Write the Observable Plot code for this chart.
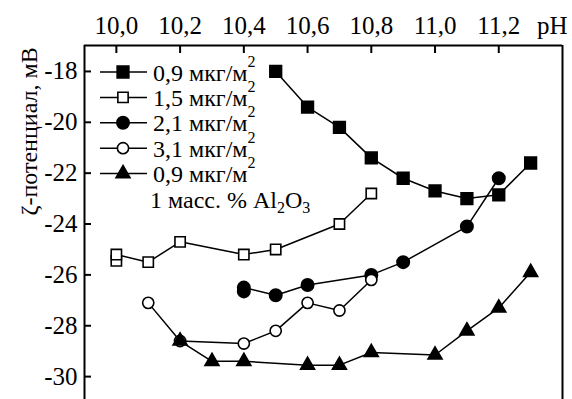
<!DOCTYPE html>
<html><head><meta charset="utf-8">
<script src="https://cdn.jsdelivr.net/npm/d3@7"></script>
<script src="https://cdn.jsdelivr.net/npm/@observablehq/plot@0.6"></script>
<style>
html,body{margin:0;padding:0;background:#fff;overflow:hidden}
#chart svg{display:block}
</style></head><body><div id="chart"></div>
<script>
// ---- data ----
const legendLabels = ["0,9 мкг/м", "1,5 мкг/м", "2,1 мкг/м", "3,1 мкг/м", "0,9 мкг/м"];
const legendNote = "1 масс. % Al";
const pH1 = [10.5, 10.6, 10.7, 10.8, 10.9, 11.0, 11.1, 11.2, 11.3];
const zeta1 = [-18.0, -19.4, -20.2, -21.4, -22.2, -22.7, -23.0, -22.85, -21.6];
const pH2 = [10.0, 10.0, 10.1, 10.2, 10.4, 10.5, 10.7, 10.8];
const zeta2 = [-25.45, -25.2, -25.5, -24.7, -25.2, -25.0, -24.0, -22.8];
const pH3 = [10.4, 10.4, 10.5, 10.6, 10.8, 10.9, 11.1, 11.2];
const zeta3 = [-26.65, -26.5, -26.8, -26.4, -26.0, -25.5, -24.1, -22.2];
const pH4 = [10.1, 10.2, 10.4, 10.5, 10.6, 10.7, 10.8];
const zeta4 = [-27.1, -28.6, -28.7, -28.2, -27.1, -27.4, -26.2];
const pH5 = [10.2, 10.3, 10.4, 10.6, 10.7, 10.8, 11.0, 11.1, 11.2, 11.3];
const zeta5 = [-28.6, -29.4, -29.4, -29.55, -29.55, -29.05, -29.15, -28.2, -27.3, -25.9];
const xTicks = [10.0, 10.2, 10.4, 10.6, 10.8, 11.0, 11.2];
const yTicks = [-18, -20, -22, -24, -26, -28, -30];
const xDomain = [9.9, 11.4];
const yDomain = [-30.9, -16.98];

// ---- build ----
const FONT = "Liberation Serif";
const rows = (xs, ys) => xs.map((x, i) => ({pH: x, zeta: ys[i]}));
const S = [rows(pH1, zeta1), rows(pH2, zeta2), rows(pH3, zeta3), rows(pH4, zeta4), rows(pH5, zeta5)];
const styles = [
  {symbol: "square", r: 6.6, fill: "black"},
  {symbol: "square", r: 5.8, fill: "white"},
  {symbol: "circle", r: 6.2, fill: "black"},
  {symbol: "circle", r: 5.6, fill: "white"},
  {symbol: "triangle", r: 5.2, fill: "black"}
];
const marks = [];
for (let i = 0; i < S.length; i++) {
  marks.push(Plot.line(S[i], {x: "pH", y: "zeta", stroke: "black", strokeWidth: 1.5}));
}
for (let i = 0; i < S.length; i++) {
  const st = styles[i];
  marks.push(Plot.dot(S[i], {x: "pH", y: "zeta", symbol: st.symbol, r: st.r, fill: st.fill, stroke: "black", strokeWidth: 1.6}));
}
const fmtX = d => d.toFixed(1).replace(".", ",");
const fmtY = d => (d < 0 ? "-" : "") + Math.abs(d);

const chart = Plot.plot({
  width: 572,
  height: 399,
  marginTop: 45,
  marginLeft: 84,
  marginRight: 10,
  marginBottom: 0,
  style: {background: "white", color: "black"},
  x: {domain: xDomain},
  y: {domain: yDomain},
  marks: [
    Plot.ruleX(xDomain, {stroke: "black", strokeWidth: 2}),
    Plot.ruleY([yDomain[1]], {stroke: "black", strokeWidth: 2}),
    Plot.axisX(xTicks, {anchor: "top", tickSize: 0, tickPadding: 12, tickFormat: fmtX, fontSize: 25, fontFamily: FONT, label: null}),
    Plot.axisX(xTicks, {anchor: "top", tickSize: -7, strokeWidth: 2, tickFormat: () => "", label: null}),
    Plot.axisY(yTicks, {anchor: "left", tickSize: 0, tickPadding: 7, tickFormat: fmtY, fontSize: 25, fontFamily: FONT, label: null}),
    Plot.axisY(yTicks, {anchor: "left", tickSize: -7, strokeWidth: 2, tickFormat: () => "", label: null}),
    Plot.text(["pH"], {frameAnchor: "top-right", dx: 5, dy: -12, textAnchor: "end", lineAnchor: "bottom", fontSize: 25, fontFamily: FONT}),
    Plot.text(["ζ-потенциал, мВ"], {frameAnchor: "left", rotate: -90, dx: -55, dy: -7, fontSize: 24, fontFamily: FONT}),
    ...marks
  ]
});
document.getElementById("chart").appendChild(chart);

// ---- legend (layout in pixels) ----
const svg = d3.select(chart);
const lg = svg.append("g").attr("font-family", FONT).attr("fill", "black").attr("text-anchor", "start");
const symMap = {square: d3.symbolSquare, circle: d3.symbolCircle, triangle: d3.symbolTriangle};
legendLabels.forEach((lab, i) => {
  const y = 72 + i * 25.4;
  lg.append("line").attr("x1", 100).attr("x2", 147).attr("y1", y).attr("y2", y).attr("stroke", "black").attr("stroke-width", 1.5);
  const st = styles[i];
  lg.append("path")
    .attr("d", d3.symbol(symMap[st.symbol], Math.PI * st.r * st.r)())
    .attr("transform", `translate(123,${y})`)
    .attr("fill", st.fill).attr("stroke", "black").attr("stroke-width", 1.6);
  const t = lg.append("text").attr("x", 153).attr("y", y + 8.5).attr("font-size", 24);
  t.append("tspan").text(lab);
  t.append("tspan").attr("font-size", 16).attr("dy", -14).text("2");
});
{
  const y = 72 + 5 * 25.4 + 9;
  const t = lg.append("text").attr("x", 150).attr("y", y).attr("font-size", 24);
  t.append("tspan").text(legendNote);
  t.append("tspan").attr("font-size", 16).attr("dy", 5).text("2");
  t.append("tspan").attr("dy", -5).text("O");
  t.append("tspan").attr("font-size", 16).attr("dy", 5).text("3");
}
</script></body></html>
